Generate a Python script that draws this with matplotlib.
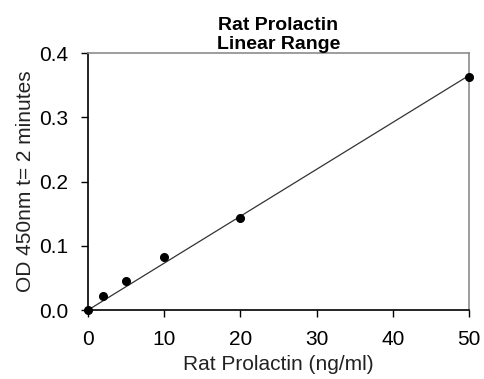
import matplotlib.pyplot as plt
import numpy as np

# Standard curve data
conc = [0, 2, 5, 10, 20, 50]
od = [0.0, 0.022, 0.045, 0.082, 0.144, 0.363]
x_ticks = [0, 10, 20, 30, 40, 50]
y_ticks = [0.0, 0.1, 0.2, 0.3, 0.4]

plt.rcParams["font.family"] = ["Liberation Sans", "DejaVu Sans"]

fig = plt.figure(figsize=(4.84, 3.79), dpi=100)
ax = fig.add_axes([0.182, 0.182, 0.787, 0.678])

# Linear fit through origin
x = np.array(conc, dtype=float)
y = np.array(od)
slope = np.sum(x * y) / np.sum(x * x)
ax.plot([0, 50], [0, slope * 50], color="#333333", linewidth=0.9, zorder=2)
ax.plot(conc, od, "o", color="black", markersize=5.5, clip_on=False, zorder=3)

ax.set_xlim(0, 50)
ax.set_ylim(0, 0.4)
ax.set_xticks(x_ticks)
ax.set_yticks(y_ticks)
ax.set_yticklabels([f"{v:.1f}" for v in y_ticks])
ax.tick_params(direction="out", length=5, width=1, labelsize=15, colors="black")
ax.tick_params(axis="y", pad=9.5)
ax.tick_params(axis="x", pad=9.5)

for side in ("left", "bottom"):
    ax.spines[side].set_color("black")
    ax.spines[side].set_linewidth(1.2)
for side in ("top", "right"):
    ax.spines[side].set_color("#8c8c8c")
    ax.spines[side].set_linewidth(1.2)

ax.set_xlabel("Rat Prolactin (ng/ml)", fontsize=15, color="#222222", labelpad=4)
ax.set_ylabel("OD 450nm t= 2 minutes", fontsize=15, color="#222222", labelpad=3)
ax.set_title("Rat Prolactin\nLinear Range", fontsize=14, fontweight="bold",
             linespacing=1.15, pad=2)

plt.savefig("out.png", dpi=100)
plt.close()
